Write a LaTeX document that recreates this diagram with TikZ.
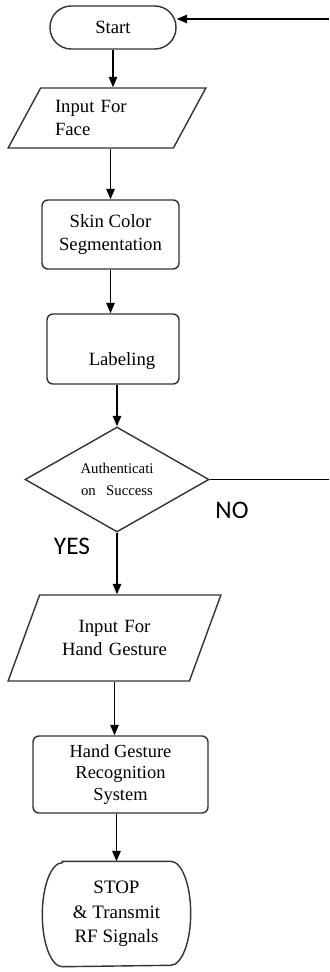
\documentclass[tikz,border=0pt]{standalone}
\usepackage{fontspec}
\setmainfont{Liberation Serif}
\newfontfamily\calibfont{Carlito}
\usetikzlibrary{arrows.meta, shapes.geometric}

\begin{document}
\begin{tikzpicture}[>={Triangle[length=0.26cm, width=0.21cm]}, line width=1pt,
        boxtext/.style={font=\fontsize{13.3}{17}\selectfont, align=center, inner sep=0pt},
        termbox/.style={boxtext, draw=black!80, rectangle, rounded corners=0.53cm},
        procbox/.style={boxtext, draw=black!80, rectangle, rounded corners=0.15cm},
        iobox/.style={boxtext, draw=black!80, trapezium, trapezium stretches=true}]
            \useasboundingbox (0, 0) rectangle (8.225, -24.3);
            % shapes
            \node[termbox, minimum width=3.15cm, minimum height=1.075cm] (start) at (2.825, -0.6875) {Start};
            \node[iobox, trapezium left angle=55, trapezium right angle=125, minimum width=4.95cm, minimum height=1.5cm,
                text width=2.6cm, align=left] (face) at (2.675, -2.95) {Input For\\Face};
            \node[procbox, minimum width=3.425cm, minimum height=1.725cm] (skin) at (2.7625, -5.8625) {Skin Color\\Segmentation};
            \node[procbox, minimum width=3.3cm, minimum height=1.75cm] (labelbox) at (2.825, -8.725) {};
            \node[boxtext] (labeltext) at ([xshift=0.225cm, yshift=-0.29cm]labelbox.center) {Labeling};
            \node[diamond, draw=black!80, inner sep=0pt, minimum width=4.6cm, minimum height=2.475cm,
                align=center, font=\fontsize{10.5}{15.4}\selectfont] (decide) at (2.925, -11.9875) {Authenticati\\on\hspace{0.7em}Success};
            \node[iobox, trapezium left angle=58, trapezium right angle=122, minimum width=5.325cm, minimum height=2.15cm,
                text width=2.7cm] (hand) at (2.8625, -15.95) {Input For\\Hand Gesture};
            \node[procbox, minimum width=4.375cm, minimum height=1.925cm, font=\fontsize{13.1}{15.5}\selectfont] (recog) at (3.0125, -19.3625) {Hand Gesture\\Recognition\\System};
            \node[boxtext, minimum width=3.675cm, minimum height=2.6cm, font=\fontsize{13.5}{17.6}\selectfont] (stop) at (2.9125, -22.85) {STOP\\\&~Transmit\\RF Signals};
            \draw[black!80] ([xshift=0.5cm]stop.north west) -- ([xshift=-0.5cm]stop.north east)
                arc[start angle=90, end angle=-90, x radius=0.5cm, y radius=1.3cm]
                -- ([xshift=0.5cm]stop.south west)
                arc[start angle=270, end angle=90, x radius=0.5cm, y radius=1.3cm] -- cycle;
            % branch labels
            \node[font=\calibfont\fontsize{18}{20}\selectfont] (nolabel) at (5.8, -12.75) {NO};
            \node[font=\calibfont\fontsize{18}{20}\selectfont] (yeslabel) at (1.8, -13.65) {YES};
            % connectors
            \coordinate (noend) at (8.225, -11.9875);
            \coordinate (backtop) at (8.225, -0.475);
            \draw[->] (start.south) -- (start.south |- face.north);
            \draw[->] (skin.north |- face.south) -- (skin.north);
            \draw[->] (skin.south) -- (skin.south |- labelbox.north);
            \draw[->] (decide.north |- labelbox.south) -- (decide.north);
            \draw[->] (decide.south) -- (decide.south |- hand.north);
            \draw[->] (hand.south) -- (hand.south |- recog.north);
            \draw[->] (stop.north |- recog.south) -- (stop.north);
            \draw (decide.east) -- (noend);
            \draw[->] (backtop) -- (backtop -| start.east);
        \end{tikzpicture}
\end{document}
